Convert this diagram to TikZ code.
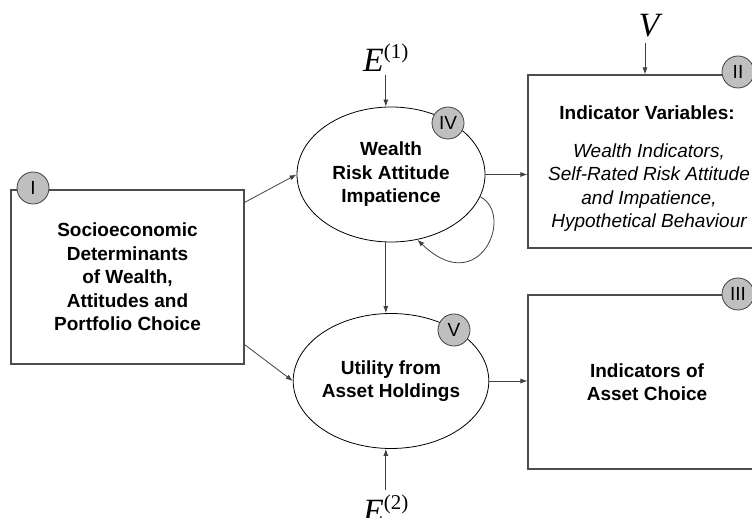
\documentclass[tikz,border=0pt]{standalone}
\usepackage{fontspec}
\setmainfont{Liberation Sans}
\newfontfamily\tms{Liberation Serif}
\usetikzlibrary{shapes.geometric,arrows.meta,calc}

\tikzset{
  txt/.style={font=\fontsize{19}{23.5}\selectfont\bfseries, align=center, inner sep=0pt},
  itxt/.style={font=\fontsize{19}{23.5}\selectfont\itshape, align=center, inner sep=0pt},
  block/.style={draw=black!70, line width=1.1pt, rectangle, inner sep=0pt},
  latent/.style={draw=black, line width=0.8pt, ellipse, fill=white, inner sep=0pt,
                 minimum width=188pt, minimum height=135pt},
  tag/.style={draw=black!75, line width=0.8pt, circle, fill=black!25, inner sep=0pt,
              minimum size=32pt, font=\fontsize{19}{19}\selectfont},
  err/.style={inner sep=0pt, anchor=base west},
  link/.style={draw=black!75, line width=0.8pt, -{Latex[length=7pt,width=5pt]}},
}

\newcommand{\errlabel}[1]{{\tms\fontsize{34}{34}\selectfont\itshape E\raisebox{13pt}{\fontsize{21}{21}\selectfont\upshape(#1)}}}

\begin{document}
\begin{tikzpicture}[x=1pt,y=-1pt]
\useasboundingbox (0,0) rectangle (752,518);
\clip (0,0) rectangle (752,518);

% boxes
\node[block, minimum width=233pt, minimum height=174pt, txt] (soc) at (127.5,277)
  {Socioeconomic\\Determinants\\of Wealth,\\Attitudes and\\Portfolio Choice};
\node[block, minimum width=238pt, minimum height=173pt] (ind) at (647,161.5) {};
\node[txt] (indtitle) at (647,113) {Indicator Variables:};
\node[itxt] (indlist) at (649,187.5)
  {Wealth Indicators,\\Self-Rated Risk Attitude\\and Impatience,\\Hypothetical Behaviour};
\node[block, minimum width=238pt, minimum height=174pt, txt] (ass) at (647,382)
  {Indicators of\\Asset Choice};

% latent variables
\node[latent, txt] (wra) at (391,174.5) {Wealth\\Risk Attitude\\Impatience};
\node[latent, txt] (uti) at (391,381) {Utility from\\Asset Holdings};

% error terms
\node[err] (e1) at (363,72) {\errlabel{1}};
\node[err] (e2) at (363,522) {\errlabel{2}};
\node[inner sep=0pt, anchor=base] (vv) at (649,37) {\tms\fontsize{34}{34}\selectfont\itshape V};

% connectors
\draw[link] ($(soc.north east)+(0,13)$) -- (wra.west);
\draw[link] ($(soc.south east)+(0,-20)$) -- (uti.west);
\draw[link] (wra.east) -- (wra.east -| ind.west);
\draw[link] (uti.east) -- (uti.east -| ass.west);
\draw[link] ($(e1.south)+(0,3)$) -- (e1.south |- wra.north);
\draw[link] (wra.south -| e1.south) -- (uti.north -| e1.south);
\draw[link] ($(e2.north)+(0,-4)$) -- (e2.north |- uti.south);
\draw[link] ($(vv.south)+(-4,5)$) -- ($(vv.south |- ind.north)+(-4,0)$);
\draw[link] (wra.-14) .. controls +(35,18) and +(62,60) .. (wra.-68);

% section tags
\node[tag] (tI) at (33,188) {I};
\node[tag] (tII) at (738,72) {II};
\node[tag] (tIII) at (738,294) {III};
\node[tag] (tIV) at (448,123) {IV};
\node[tag] (tV) at (454,330) {V};
\end{tikzpicture}
\end{document}
